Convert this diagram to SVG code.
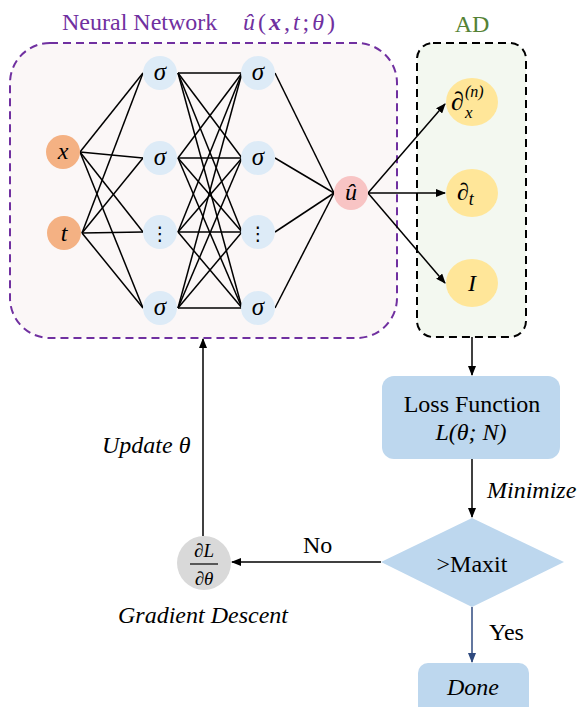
<svg xmlns="http://www.w3.org/2000/svg" width="579" height="707" viewBox="0 0 579 707">
<style>
text{font-family:'Liberation Serif','DejaVu Serif',serif;font-size:24px;fill:#000}
.i{font-style:italic}
.c{text-anchor:middle}
.s{font-size:25px}
.d{font-family:'DejaVu Sans',sans-serif;font-size:19px}
.e{stroke:#000;stroke-width:1.5;fill:none}
.sig{fill:#DDEBF7}
.inp{fill:#F4B183}
.ad{fill:#FFE699}
.blue{fill:#BDD7EE}
</style>
<defs>
<marker id="ah" markerWidth="10" markerHeight="8" refX="9" refY="4" orient="auto" markerUnits="userSpaceOnUse">
<path d="M0,0 L10,4 L0,8 Z" fill="#000"/>
</marker>
<marker id="ahb" markerWidth="10" markerHeight="8" refX="9" refY="4" orient="auto" markerUnits="userSpaceOnUse">
<path d="M0,0 L10,4 L0,8 Z" fill="#2F4A7F"/>
</marker>
</defs>
<rect width="579" height="707" fill="#fff"/>

<g id="nn-box">
<rect x="10" y="43" width="387" height="295" rx="40" fill="#FBF7F7" stroke="#7030A0" stroke-width="2" stroke-dasharray="8 5"/>
<text x="62" y="30" style="fill:#7030A0">Neural Network</text>
<text x="243" y="30" style="fill:#7030A0" textLength="92"><tspan class="i">û</tspan>(<tspan class="i" font-weight="bold">x</tspan>,<tspan class="i">t</tspan>;<tspan class="i">θ</tspan>)</text>
</g>

<g id="ad-box">
<rect x="417" y="43" width="109" height="294" rx="16" fill="#F3F8F0" stroke="#000" stroke-width="2" stroke-dasharray="8 5"/>
<text class="c" x="472" y="32" style="fill:#548235">AD</text>
</g>

<g id="connectors">
<g class="e">
<line x1="80" y1="152" x2="143" y2="73"/>
<line x1="80" y1="152" x2="143" y2="158"/>
<line x1="80" y1="152" x2="143" y2="232"/>
<line x1="80" y1="152" x2="143" y2="308"/>
<line x1="82" y1="233" x2="143" y2="73"/>
<line x1="82" y1="233" x2="143" y2="158"/>
<line x1="82" y1="233" x2="143" y2="232"/>
<line x1="82" y1="233" x2="143" y2="308"/>
<line x1="178" y1="73" x2="242" y2="73"/>
<line x1="178" y1="73" x2="242" y2="158"/>
<line x1="178" y1="73" x2="242" y2="232"/>
<line x1="178" y1="73" x2="242" y2="308"/>
<line x1="178" y1="158" x2="242" y2="73"/>
<line x1="178" y1="158" x2="242" y2="158"/>
<line x1="178" y1="158" x2="242" y2="232"/>
<line x1="178" y1="158" x2="242" y2="308"/>
<line x1="178" y1="232" x2="242" y2="73"/>
<line x1="178" y1="232" x2="242" y2="158"/>
<line x1="178" y1="232" x2="242" y2="232"/>
<line x1="178" y1="232" x2="242" y2="308"/>
<line x1="178" y1="308" x2="242" y2="73"/>
<line x1="178" y1="308" x2="242" y2="158"/>
<line x1="178" y1="308" x2="242" y2="232"/>
<line x1="178" y1="308" x2="242" y2="308"/>
<line x1="275" y1="73" x2="334" y2="193"/>
<line x1="275" y1="158" x2="334" y2="193"/>
<line x1="275" y1="232" x2="334" y2="193"/>
<line x1="275" y1="308" x2="334" y2="193"/>
</g>
<line class="e" x1="368" y1="193" x2="445" y2="104" marker-end="url(#ah)"/>
<line class="e" x1="368" y1="193" x2="445" y2="193" marker-end="url(#ah)"/>
<line class="e" x1="368" y1="193" x2="445" y2="283" marker-end="url(#ah)"/>
<line class="e" x1="472" y1="337" x2="472" y2="375" marker-end="url(#ah)"/>
<line class="e" x1="472" y1="459" x2="472" y2="517" marker-end="url(#ah)"/>
<text class="i" x="487" y="498">Minimize</text>
<line class="e" x1="381" y1="562" x2="232" y2="562" marker-end="url(#ah)"/>
<text x="303" y="553">No</text>
<line x1="472" y1="607" x2="472" y2="662" stroke="#2F4A7F" stroke-width="1.5" marker-end="url(#ahb)"/>
<text x="489" y="640">Yes</text>
<line class="e" x1="203" y1="536" x2="203" y2="339" marker-end="url(#ah)"/>
<text class="i" x="102" y="453">Update θ</text>
</g>

<g id="node-x"><circle class="inp" cx="63" cy="152" r="17"/><text class="i c" x="63" y="159">x</text></g>
<g id="node-t"><circle class="inp" cx="64" cy="233" r="17"/><text class="i c" x="64" y="241">t</text></g>

<g id="node-h11"><circle class="sig" cx="160" cy="73" r="17"/><text class="i c s" x="160" y="80">σ</text></g>
<g id="node-h12"><circle class="sig" cx="160" cy="158" r="17"/><text class="i c s" x="160" y="165">σ</text></g>
<g id="node-h13"><circle class="sig" cx="160" cy="232" r="17"/><text class="c d" x="160" y="240">⋮</text></g>
<g id="node-h14"><circle class="sig" cx="160" cy="308" r="17"/><text class="i c s" x="160" y="315">σ</text></g>

<g id="node-h21"><circle class="sig" cx="258" cy="73" r="17"/><text class="i c s" x="258" y="80">σ</text></g>
<g id="node-h22"><circle class="sig" cx="258" cy="158" r="17"/><text class="i c s" x="258" y="165">σ</text></g>
<g id="node-h23"><circle class="sig" cx="258" cy="232" r="17"/><text class="c d" x="258" y="240">⋮</text></g>
<g id="node-h24"><circle class="sig" cx="258" cy="308" r="17"/><text class="i c s" x="258" y="315">σ</text></g>

<g id="node-u"><circle cx="351" cy="193" r="17" fill="#F8C4C4"/><text class="i c" x="351" y="200">û</text></g>

<g id="node-dx"><ellipse class="ad" cx="472" cy="102" rx="26" ry="24"/>
<text class="i" x="451" y="110" style="font-size:26px">∂</text>
<text class="i" x="465" y="118" style="font-size:17px">x</text>
<text class="i" x="465" y="97" style="font-size:16px">(n)</text></g>
<g id="node-dt"><ellipse class="ad" cx="472" cy="193" rx="26" ry="24"/><text class="i" x="457" y="200">∂<tspan style="font-size:18px" dy="5">t</tspan></text></g>
<g id="node-I"><ellipse class="ad" cx="472" cy="283" rx="26" ry="24"/><text class="i c" x="472" y="291">I</text></g>

<g id="node-loss"><rect class="blue" x="382" y="376" width="178" height="83" rx="12"/><text class="c" x="472" y="412">Loss Function</text><text class="i c" x="471" y="440">L(θ; N)</text></g>

<g id="node-decision"><polygon class="blue" points="472,518 564,562 472,607 381,562"/><text class="c" x="472" y="572">&gt;Maxit</text></g>

<g id="node-done"><rect class="blue" x="418" y="663" width="111" height="60" rx="10"/><text class="i c" x="473" y="695">Done</text></g>

<g id="node-grad"><circle cx="204" cy="563" r="27" fill="#D9D9D9"/><text class="i c" x="204" y="557" style="font-size:19px">∂L</text><line x1="190" y1="564" x2="218" y2="564" stroke="#000" stroke-width="1.2"/><text class="i c" x="204" y="585" style="font-size:19px">∂θ</text>
<text class="i" x="118" y="623">Gradient Descent</text></g>
</svg>
